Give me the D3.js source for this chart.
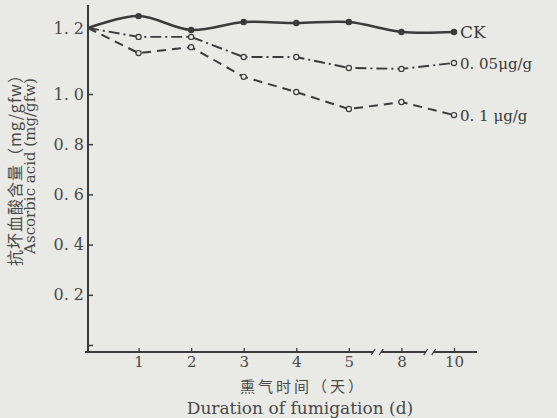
<!DOCTYPE html>
<html>
<head>
<meta charset="utf-8">
<script src="https://cdn.jsdelivr.net/npm/d3@7"></script>
<style>
  body { margin: 0; background: #e9e9e5; }
  svg { display: block; }
  .tick text { font-family: "DejaVu Serif", serif; fill: #4a4a4a; white-space: pre; }
</style>
</head>
<body>
<svg id="chart" width="557" height="418"></svg>
<script>
// days on x axis (axis is broken between 5-8 and 8-10)
const days = ["0", "1", "2", "3", "4", "5", "8", "10"];
const ckValues = [1.200, 1.236, 1.194, 1.218, 1.215, 1.218, 1.188, 1.188];
const lowValues = [1.200, 1.173, 1.173, 1.112, 1.112, 1.079, 1.076, 1.094];
const highValues = [1.200, 1.124, 1.142, 1.052, 1.006, 0.940, 0.968, 0.916];
const yTicks = [0.2, 0.4, 0.6, 0.8, 1.0, 1.2];
const seriesLabels = ["CK", "0. 05μg/g", "0. 1 μg/g"];

const svg = d3.select("#chart");
const ink = "#3b3b3b";
const textInk = "#4a4a4a";

const x = d3.scalePoint().domain(days).range([86, 454]);
// scanned figure: the top interval is stretched a bit
const y = d3.scaleLinear().domain([0, 1.0, 1.2]).range([345, 94, 28]);
const axisY = 352;

// Y axis
const yAxisG = svg.append("g")
    .attr("transform", "translate(88, 0)")
    .call(d3.axisLeft(y).tickValues(yTicks.concat([0]))
        .tickSize(-5).tickPadding(4)
        .tickFormat(d => d === 0 ? "" : d3.format(".1f")(d).replace(".", ". ")));
yAxisG.select(".domain").remove();
yAxisG.selectAll(".tick line").attr("stroke", ink).attr("stroke-width", 1.5);
yAxisG.selectAll(".tick text").attr("font-size", "16px");
svg.append("line").attr("x1", 88).attr("x2", 88).attr("y1", 5).attr("y2", axisY)
    .attr("stroke", ink).attr("stroke-width", 2);

// X axis: ticks from the scale, line drawn in pieces with break marks
const xAxisG = svg.append("g")
    .attr("transform", `translate(0, ${axisY})`)
    .call(d3.axisBottom(x).tickValues(days.slice(1)).tickSize(-4).tickPadding(4));
xAxisG.select(".domain").remove();
xAxisG.selectAll(".tick line").attr("stroke", ink).attr("stroke-width", 1.3);
xAxisG.selectAll(".tick text").attr("font-size", "15px");

const breaks = [["5", "8"], ["8", "10"]].map(([a, b]) => (x(a) + x(b)) / 2 + 2);
const gap = 4;
const segs = [];
let start = 85;
breaks.forEach(bx => { segs.push([start, bx - gap]); start = bx + gap; });
segs.push([start, 477]);
segs.forEach(([a, b]) => {
    svg.append("line").attr("x1", a).attr("x2", b).attr("y1", axisY).attr("y2", axisY)
        .attr("stroke", ink).attr("stroke-width", 2);
});
breaks.forEach(bx => {
    [-gap, gap].forEach(off => {
        svg.append("line")
            .attr("x1", bx + off - 2).attr("x2", bx + off + 2)
            .attr("y1", axisY + 3).attr("y2", axisY - 3)
            .attr("stroke", ink).attr("stroke-width", 1.3);
    });
});

// series
const series = [
    { values: ckValues, dash: null, width: 2.5, curve: d3.curveCatmullRom, filled: true },
    { values: lowValues, dash: "11,4,2,4", width: 1.9, curve: d3.curveLinear, filled: false },
    { values: highValues, dash: "9,6", width: 2, curve: d3.curveLinear, filled: false }
];

series.forEach((s, si) => {
    const pts = days.map((d, i) => [x(d), y(s.values[i])]);
    pts[0][0] = 88;
    svg.append("path")
        .attr("d", d3.line().curve(s.curve)(pts))
        .attr("fill", "none")
        .attr("stroke", ink)
        .attr("stroke-width", s.width)
        .attr("stroke-dasharray", s.dash);

    svg.selectAll(null).data(pts.slice(1)).enter().append("circle")
        .attr("cx", d => d[0]).attr("cy", d => d[1])
        .attr("r", 2.6)
        .attr("fill", s.filled ? ink : "#e9e9e5")
        .attr("stroke", ink).attr("stroke-width", 1.2);

    const last = pts[pts.length - 1];
    svg.append("text")
        .attr("x", last[0] + 6).attr("y", last[1] + 6)
        .attr("font-family", "DejaVu Serif, serif")
        .attr("font-size", si === 0 ? "17px" : "15px")
        .attr("fill", ink)
        .style("white-space", "pre")
        .text(seriesLabels[si]);
});

// axis titles
svg.append("text")
    .attr("transform", "translate(21, 166) rotate(-90)")
    .attr("text-anchor", "middle")
    .attr("font-family", "Noto Sans CJK SC, sans-serif")
    .attr("font-size", "16px").attr("fill", textInk)
    .attr("letter-spacing", "1")
    .text("抗坏血酸含量（mg/gfw）");
svg.append("text")
    .attr("transform", "translate(35, 166) rotate(-90)")
    .attr("text-anchor", "middle")
    .attr("font-family", "DejaVu Serif, serif")
    .attr("font-size", "15px").attr("fill", textInk)
    .text("Ascorbic acid (mg/gfw)");

svg.append("text")
    .attr("x", 303).attr("y", 392)
    .attr("text-anchor", "middle")
    .attr("font-family", "Noto Sans CJK SC, sans-serif")
    .attr("font-size", "15px").attr("fill", textInk)
    .attr("letter-spacing", "3")
    .text("熏气时间（天）");
svg.append("text")
    .attr("x", 300).attr("y", 414)
    .attr("text-anchor", "middle")
    .attr("font-family", "DejaVu Serif, serif")
    .attr("font-size", "17px").attr("fill", textInk)
    .text("Duration of fumigation (d)");
</script>
</body>
</html>
